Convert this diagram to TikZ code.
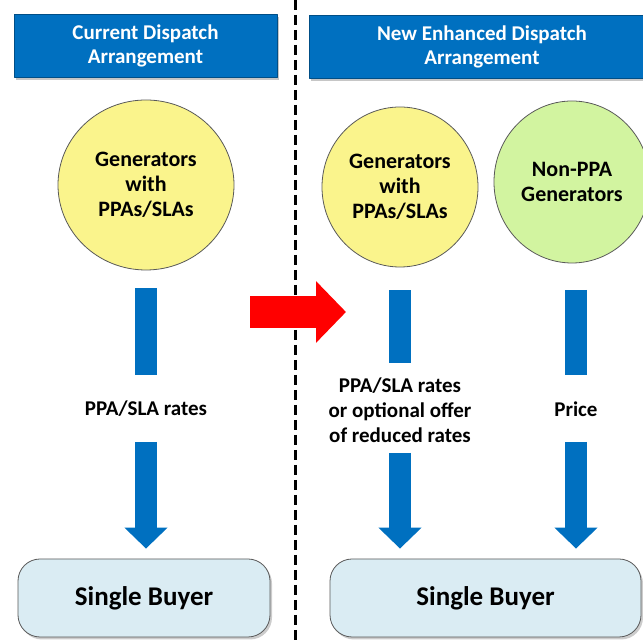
\documentclass[tikz,border=0pt]{standalone}
\usepackage{fontspec}
\setmainfont{Carlito}
\usetikzlibrary{arrows.meta,shadows,shapes.geometric}
\definecolor{hdblue}{RGB}{0,112,192}
\definecolor{genyellow}{RGB}{250,244,140}
\definecolor{gengreen}{RGB}{210,244,160}
\definecolor{buyerblue}{RGB}{218,236,243}

\begin{document}
\begin{tikzpicture}[x=1pt,y=1pt,line join=round,
  head/.style={fill=hdblue,draw=hdblue!70!black,text=white,align=center,inner sep=0,
    font=\bfseries\fontsize{21}{24}\selectfont,minimum height=63pt,
    drop shadow={opacity=.45,shadow xshift=2pt,shadow yshift=-2.5pt}},
  gen/.style={ellipse,draw=black!65,thick,align=center,inner sep=0,
    font=\bfseries\fontsize{22}{25}\selectfont},
  bar/.style={line width=22pt,draw=hdblue},
  flow/.style={bar,-{Triangle[width=42pt,length=21pt]},shorten >=10pt},
  lbl/.style={align=center,font=\bfseries\fontsize{21}{25}\selectfont},
  buyer/.style={draw=black!65,thick,fill=buyerblue,rounded corners=22pt,
    minimum height=78pt,font=\bfseries\fontsize{27}{30}\selectfont,
    drop shadow={opacity=.4,shadow xshift=2pt,shadow yshift=-2.5pt}}]
\useasboundingbox (0,0) rectangle (643,642);

% headers
\node[head,minimum width=263pt] (curH) at (145.5,596) {Current Dispatch\\Arrangement};
\node[head,minimum width=346pt] (newH) at (482,595) {New Enhanced Dispatch\\Arrangement};
\draw[line width=3pt,dash pattern=on 10pt off 5pt] (295,642) -- (295,0);

% generators
\node[gen,fill=genyellow,minimum width=176pt,minimum height=170pt] (genL) at (146,457) {Generators\\with\\PPAs/SLAs};
\node[gen,fill=genyellow,minimum width=156pt,minimum height=160pt] (genR) at (400,455) {Generators\\with\\PPAs/SLAs};
\node[gen,fill=gengreen,minimum width=156pt,minimum height=162pt] (nonppa) at (572,460) {Non-PPA\\Generators};

% labels
\node[lbl] (rateL) at (146,233) {PPA/SLA rates};
\node[lbl] (rateR) at (400,232) {PPA/SLA rates\\or optional offer\\of reduced rates};
\node[lbl] (price) at (576,233) {Price};

% single buyer
\node[buyer,minimum width=252pt] (sbL) at (144,44) {Single Buyer};
\node[buyer,minimum width=311pt] (sbR) at (485.5,44) {Single Buyer};

% bars and arrows
\draw[bar] ([yshift=-18pt]genL.south) -- ([yshift=34pt]rateL.center);
\draw[bar] ([yshift=-23pt]genR.south) -- ([yshift=47pt]rateR.center);
\draw[bar] (price.center |- 0,352) -- ([yshift=34pt]price.center);
\draw[flow] ([yshift=-33pt]rateL.center) -- (rateL.center |- sbL.north);
\draw[flow] ([yshift=-43pt]rateR.center) -- (rateR.center |- sbR.north);
\draw[flow] ([yshift=-33pt]price.center) -- (price.center |- sbR.north);

% change
\draw[line width=32pt,red,-{Triangle[width=60pt,length=30pt]}] (250,330) -- (346,330);
\end{tikzpicture}
\end{document}
